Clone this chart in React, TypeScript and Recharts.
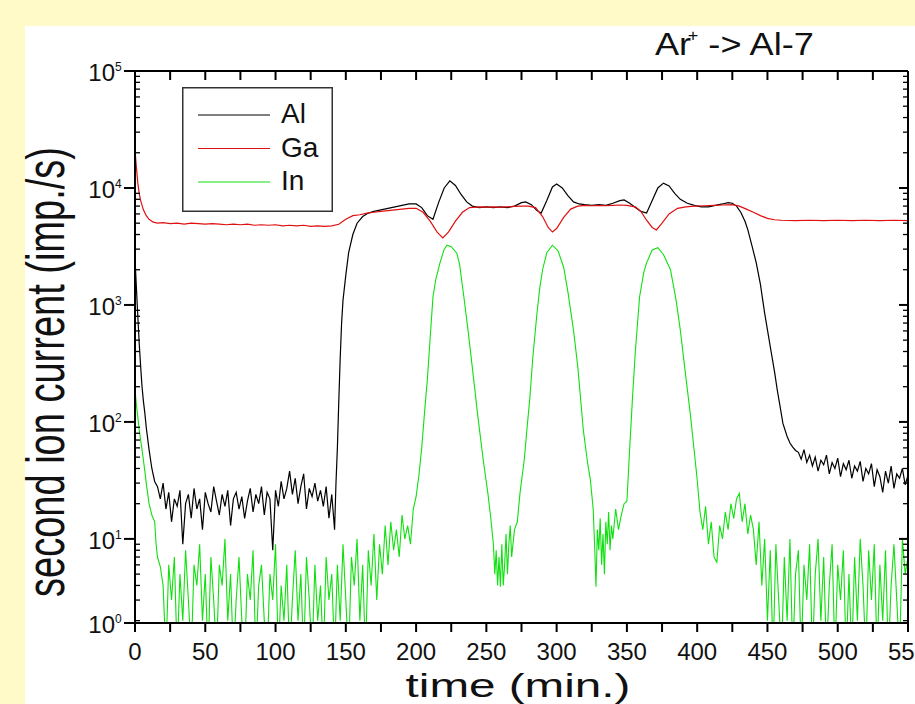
import React from 'react';
import { LineChart, Line, XAxis, YAxis, Legend } from 'recharts';

// ---- data (time in min, signal in imp./s) ----
const alPoints: [number, number][] = [
  [0, 2500], [1, 1400], [2, 800], [3, 470], [4, 300], [5, 200], [6, 150], [7, 119], [8, 90], [10, 58], [12, 40], [14, 31],
  [16, 28], [18, 22], [20, 30], [22, 18], [24, 25], [26, 14], [28, 22], [30, 19], [32, 26], [34, 9], [36, 20], [38, 24],
  [40, 15], [42, 27], [44, 18], [46, 22], [48, 12], [50, 25], [52, 20], [54, 17], [56, 28], [58, 21], [60, 16], [62, 24],
  [64, 19], [66, 26], [68, 13], [70, 22], [72, 25], [74, 18], [76, 23], [78, 15], [80, 21], [82, 27], [84, 17], [86, 24],
  [88, 20], [90, 28], [92, 16], [94, 25], [96, 22], [98, 8], [100, 26], [102, 19], [104, 31], [106, 22], [108, 27], [110, 38],
  [112, 24], [114, 33], [116, 20], [118, 28], [120, 36], [122, 18], [124, 27], [126, 23], [128, 30], [130, 21], [132, 26],
  [134, 19], [136, 28], [138, 15], [140, 24], [142, 12],
  [143, 30], [144, 60], [145, 150], [146, 350], [147, 700], [148, 1100], [150, 1800], [152, 2800], [155, 4000], [158, 5000],
  [162, 5700], [166, 6100], [170, 6300], [175, 6500], [180, 6700], [185, 6900], [190, 7100], [195, 7300], [200, 7300],
  [204, 6800], [208, 5800], [212, 5400], [216, 7500], [220, 10000], [224, 11500], [228, 10500], [232, 8800], [236, 7600],
  [240, 7000], [245, 6800], [250, 6900], [255, 6800], [260, 6900], [265, 6800], [270, 7000], [275, 7500], [278, 7600],
  [282, 7200], [286, 6400], [289, 6100], [293, 7800], [297, 10200], [300, 10800], [304, 10000], [308, 8600], [312, 7600],
  [316, 7300], [320, 7200], [325, 7100], [330, 7200], [335, 7100], [340, 7400], [345, 7800], [348, 7900], [352, 7400],
  [356, 6800], [360, 6300], [364, 6100], [368, 7800], [372, 10000], [376, 11000], [380, 10400], [384, 9000], [388, 8000],
  [393, 7400], [398, 7100], [403, 6900], [408, 6900], [413, 7100], [418, 7300], [422, 7500], [425, 7400], [428, 7000],
  [431, 6200], [434, 5200], [436, 4400], [439, 3200], [442, 2300], [445, 1500], [448, 850], [452, 440], [455, 270],
  [457, 187], [459, 135], [461, 97], [464, 75], [466, 66], [468, 61], [470, 57],
  [472, 55], [474, 48], [476, 58], [478, 45], [480, 52], [482, 42], [484, 50], [486, 38], [488, 47], [490, 43], [492, 52],
  [494, 36], [496, 45], [498, 40], [500, 49], [502, 34], [504, 44], [506, 39], [508, 47], [510, 33], [512, 42], [514, 38],
  [516, 46], [518, 31], [520, 40], [522, 36], [524, 44], [526, 28], [528, 39], [530, 34], [532, 25], [534, 38], [536, 30],
  [538, 42], [540, 27], [542, 36], [544, 33], [546, 40], [548, 29], [550, 35],
];

const gaPoints: [number, number][] = [
  [0, 21000], [1, 15000], [2, 11000], [3, 9000], [4, 7800], [6, 6500], [8, 5800], [10, 5400], [13, 5100], [16, 5000],
  [20, 5050], [25, 4950], [30, 5000], [35, 4900], [40, 5000], [45, 4950], [50, 4900], [55, 4950], [60, 4900], [65, 4850],
  [70, 4900], [75, 4850], [80, 4900], [85, 4800], [90, 4850], [95, 4800], [100, 4850], [105, 4750], [110, 4800],
  [115, 4750], [120, 4800], [125, 4700], [130, 4750], [135, 4700], [140, 4750], [145, 4900], [150, 5400], [155, 5800],
  [160, 5900], [165, 6100], [170, 6200], [175, 6300], [180, 6400], [185, 6500], [190, 6600], [195, 6700], [200, 6700],
  [205, 6200], [210, 5200], [215, 4200], [219, 3740], [223, 4200], [228, 5200], [233, 6200], [238, 6800], [245, 6900],
  [250, 6850], [255, 6900], [260, 6850], [265, 6900], [270, 6950], [275, 7000], [280, 7000], [285, 6800], [290, 5700],
  [294, 4600], [297, 4200], [300, 4500], [305, 5600], [310, 6600], [315, 7000], [320, 7100], [325, 7050], [330, 7100],
  [335, 7050], [340, 7100], [345, 7150], [350, 7100], [356, 6900], [360, 6300], [364, 5300], [368, 4600], [371, 4380],
  [375, 5000], [380, 6000], [386, 6700], [392, 6900], [398, 7000], [405, 7050], [412, 7100], [418, 7150], [425, 7200],
  [430, 7000], [435, 6600], [440, 6200], [445, 5800], [450, 5500], [455, 5350], [460, 5300], [470, 5250], [480, 5300],
  [490, 5250], [500, 5300], [510, 5250], [520, 5300], [530, 5250], [540, 5300], [550, 5250],
];

const inPoints: [number, number][] = [
  [0, 190], [1, 140], [2, 110], [3, 85], [4, 70], [5, 58], [6, 47], [7, 38], [8, 30], [10, 20], [12, 16], [14, 14],
  [15, 9], [16, 7], [18, 5.8],
  [20, 4], [22, 1], [24, 6], [26, 3], [28, 7], [30, 1], [32, 5], [34, 2], [36, 8], [38, 3], [40, 1], [42, 6], [44, 4],
  [46, 9], [48, 2], [50, 5], [52, 1], [54, 7], [56, 3], [58, 1], [60, 6], [62, 4], [64, 10], [66, 2], [68, 5], [70, 1],
  [72, 3], [74, 7], [76, 2], [78, 1], [80, 5], [82, 3], [84, 8], [86, 1], [88, 4], [90, 6], [92, 2], [94, 1], [96, 5],
  [98, 3], [100, 9], [102, 1], [104, 4], [106, 2], [108, 6], [110, 1], [112, 3], [114, 8], [116, 2], [118, 5], [120, 1],
  [122, 7], [124, 3], [126, 1], [128, 6], [130, 2], [132, 4], [134, 1], [136, 7], [138, 3], [140, 5], [142, 1], [144, 6],
  [146, 2], [148, 9], [150, 3], [152, 1], [154, 7], [156, 4], [158, 10], [160, 2], [162, 6], [164, 1], [166, 8], [168, 4],
  [170, 11], [172, 3], [174, 9], [176, 5], [178, 13], [180, 6], [182, 14], [184, 8], [186, 12], [188, 7], [190, 16],
  [192, 10], [194, 13], [196, 9], [198, 18], [200, 23], [202, 35], [204, 60], [206, 120], [208, 230], [210, 520],
  [212, 1170], [214, 1650], [217, 2290], [220, 3000], [222, 3240], [225, 3150], [229, 2770], [231, 2200], [234, 1170],
  [237, 600], [241, 230], [244, 110], [248, 45], [251, 25], [253, 15.6],
  [255, 9], [256, 5], [257, 8], [258, 4], [259, 7], [260, 3.9], [261, 9], [262, 4], [263, 6], [264, 11], [265, 5],
  [266, 9], [267, 13], [268, 7], [270, 12], [272, 14], [274, 25], [277, 48], [279, 90], [281, 163], [283, 350],
  [286, 850], [288, 1400], [290, 2000], [293, 2800], [297, 3240], [301, 2900], [305, 2100], [308, 1300], [312, 610],
  [315, 300], [319, 85], [322, 45], [324, 32], [326, 18], [327, 9], [328, 3.9], [329, 12], [330, 8], [331, 15], [332, 6],
  [333, 11], [334, 5], [335, 14], [336, 9], [337, 17], [338, 8], [339, 13], [340, 10], [342, 18], [344, 12], [346, 16],
  [348, 20], [350, 21], [352, 60], [354, 163], [356, 400], [359, 1170], [362, 1900], [364, 2290], [368, 2950],
  [372, 3090], [376, 2700], [381, 2000], [385, 1100], [388, 610], [391, 300], [395, 120], [398, 55], [400, 32],
  [402, 17], [404, 12], [406, 19], [408, 9], [410, 14], [412, 7], [414, 6.3], [416, 13], [418, 10], [420, 17], [422, 12],
  [424, 20], [426, 15], [428, 22], [430, 24.5], [432, 14], [434, 20], [436, 11], [438, 16], [440, 12], [442, 6],
  [444, 14], [446, 4], [448, 10], [450, 2], [452, 8], [454, 1], [456, 9], [458, 3], [460, 1], [462, 7], [464, 2],
  [466, 10], [468, 1], [470, 5], [472, 8], [474, 1], [476, 6], [478, 3], [480, 9], [482, 1], [484, 5], [486, 10],
  [488, 2], [490, 7], [492, 1], [494, 4], [496, 9], [498, 1], [500, 6], [502, 3], [504, 8], [506, 1], [508, 5], [510, 1],
  [512, 7], [514, 2], [516, 10], [518, 4], [520, 1], [522, 8], [524, 3], [526, 9], [528, 1], [530, 6], [532, 2],
  [534, 8], [536, 1], [538, 4], [540, 9], [542, 3], [544, 1], [546, 10], [548, 5], [550, 7],
];

const seriesNames = ['Al', 'Ga', 'In'];
const seriesColors = ['#000000', '#e01010', '#10e010'];

const xTicks = [0, 25, 50, 75, 100, 125, 150, 175, 200, 225, 250, 275, 300, 325, 350, 375, 400, 425, 450, 475, 500, 525, 550];
const xLabelTicks = [0, 50, 100, 150, 200, 250, 300, 350, 400, 450, 500, 550];
const yMajorTicks = [1.91, 10, 100, 1000, 10000, 100000];
const yExponents = ['0', '1', '2', '3', '4', '5'];
const yMinorMultipliers = [2, 3, 4, 5, 6, 7, 8, 9];
const yDecades = [1, 10, 100, 1000, 10000];

const yAllTicks = [
  ...yMajorTicks,
  ...yDecades.flatMap((d) => yMinorMultipliers.map((m) => m * d)).filter((v) => v > 1.95),
].sort((a, b) => a - b);

const toRows = (pts: [number, number][]) => pts.map(([t, v]) => ({ t, v }));
const alData = toRows(alPoints);
const gaData = toRows(gaPoints);
const inData = toRows(inPoints);

const FONT = '"Liberation Sans", Arial, Helvetica, sans-serif';

const LeftTick = (props: any) => {
  const { x, y, payload } = props;
  const idx = yMajorTicks.indexOf(payload.value);
  if (idx < 0) {
    return <line x1={x} x2={x + 5} y1={y} y2={y} stroke="#000" strokeWidth={1.3} />;
  }
  return (
    <g>
      <line x1={x - 11} x2={x} y1={y} y2={y} stroke="#000" strokeWidth={2} />
      <text x={x - 20} y={y + 10} textAnchor="end" fontSize={24} fontFamily={FONT} fill="#111">10</text>
      <text x={x - 20} y={y} textAnchor="start" fontSize={12} fontFamily={FONT} fill="#111">{yExponents[idx]}</text>
    </g>
  );
};

const RightTick = (props: any) => {
  const { x, y, payload } = props;
  const major = yMajorTicks.indexOf(payload.value) >= 0;
  return <line x1={x - (major ? 9 : 5)} x2={x} y1={y} y2={y} stroke="#000" strokeWidth={major ? 2 : 1.3} />;
};

const BottomTick = (props: any) => {
  const { x, y, payload } = props;
  const labelled = xLabelTicks.indexOf(payload.value) >= 0;
  return (
    <g>
      <line x1={x} x2={x} y1={y} y2={y + 9} stroke="#000" strokeWidth={2} />
      {labelled && (
        <text x={x} y={y + 37} textAnchor="middle" fontSize={24} fontFamily={FONT} fill="#111">
          {payload.value}
        </text>
      )}
    </g>
  );
};

const TopTick = (props: any) => {
  const { x, y } = props;
  return <line x1={x} x2={x} y1={y} y2={y + 9} stroke="#000" strokeWidth={2} />;
};

const LegendBox = () => (
  <svg width={151} height={125} style={{ display: 'block' }}>
    <rect x={0.75} y={0.75} width={149.5} height={123.5} fill="#fff" stroke="#333" strokeWidth={1.5} />
    {seriesNames.map((name, i) => (
      <g key={name}>
        <line x1={16} x2={88} y1={28 + i * 33.5} y2={28 + i * 33.5} stroke={seriesColors[i]} strokeWidth={1} />
        <text x={99} y={36 + i * 33.5} fontSize={28} fontFamily={FONT} fill="#111">{name}</text>
      </g>
    ))}
  </svg>
);

export default function App() {
  return (
    <div
      style={{
        position: 'fixed', left: 0, top: 0, width: 915, height: 704, overflow: 'hidden',
        background: '#fffac8', fontFamily: FONT,
      }}
    >
      <div style={{ position: 'absolute', left: 25, top: 26, right: 0, bottom: 0, background: '#ffffff' }} />
      <div style={{ position: 'absolute', left: 0, top: 0 }}>
        <LineChart width={960} height={704} margin={{ top: 61, right: 42, bottom: 41, left: 75 }}>
          <XAxis
            xAxisId="bottom" dataKey="t" type="number" domain={[0, 550]} allowDataOverflow
            ticks={xTicks} interval={0} tickSize={0} tickMargin={0} height={40}
            axisLine={{ stroke: '#000', strokeWidth: 2 }} tickLine={false} tick={<BottomTick />}
          />
          <XAxis
            xAxisId="top" orientation="top" dataKey="t" type="number" domain={[0, 550]} allowDataOverflow
            ticks={xTicks} interval={0} tickSize={0} tickMargin={0} height={10}
            axisLine={{ stroke: '#000', strokeWidth: 2 }} tickLine={false} tick={<TopTick />}
          />
          <YAxis
            yAxisId="left" type="number" scale="log" domain={[1.91, 100000]} allowDataOverflow
            ticks={yAllTicks} interval={0} tickSize={0} tickMargin={0} width={60}
            axisLine={{ stroke: '#000', strokeWidth: 2 }} tickLine={false} tick={<LeftTick />}
          />
          <YAxis
            yAxisId="right" orientation="right" type="number" scale="log" domain={[1.91, 100000]} allowDataOverflow
            ticks={yAllTicks} interval={0} tickSize={0} tickMargin={0} width={10}
            axisLine={{ stroke: '#000', strokeWidth: 2 }} tickLine={false} tick={<RightTick />}
          />
          <Legend
            layout="horizontal" verticalAlign="middle" align="center"
            wrapperStyle={{ left: 182, top: 87, width: 151, height: 125 }}
            content={<LegendBox />}
          />
          <Line
            data={alData} dataKey="v" name={seriesNames[0]} xAxisId="bottom" yAxisId="left" type="linear"
            stroke={seriesColors[0]} strokeWidth={1.2} dot={false} isAnimationActive={false}
          />
          <Line
            data={inData} dataKey="v" name={seriesNames[2]} xAxisId="bottom" yAxisId="left" type="linear"
            stroke={seriesColors[2]} strokeWidth={1.1} dot={false} isAnimationActive={false}
          />
          <Line
            data={gaData} dataKey="v" name={seriesNames[1]} xAxisId="bottom" yAxisId="left" type="linear"
            stroke={seriesColors[1]} strokeWidth={1.2} dot={false} isAnimationActive={false}
          />
        </LineChart>
      </div>
      <div
        style={{
          position: 'absolute', left: 655, top: 28, fontSize: 32, lineHeight: '32px', whiteSpace: 'nowrap',
          color: '#111', transform: 'scaleX(1.13)', transformOrigin: 'left center',
        }}
      >
        Ar<sup style={{ fontSize: 16, verticalAlign: 'top', lineHeight: '16px', marginLeft: -3 }}>+</sup> -&gt; Al-7
      </div>
      <div
        style={{
          position: 'absolute', left: 46, top: 372, fontSize: 38, lineHeight: '44px', whiteSpace: 'nowrap',
          color: '#111', transform: 'translate(-50%, -50%) rotate(-90deg) scaleY(1.4)',
        }}
      >
        second ion current (imp./s)
      </div>
      <div
        style={{
          position: 'absolute', left: 518, top: 685, fontSize: 34, lineHeight: '40px', whiteSpace: 'nowrap',
          color: '#111', transform: 'translate(-50%, -50%) scaleX(1.4)',
        }}
      >
        time (min.)
      </div>
    </div>
  );
}
